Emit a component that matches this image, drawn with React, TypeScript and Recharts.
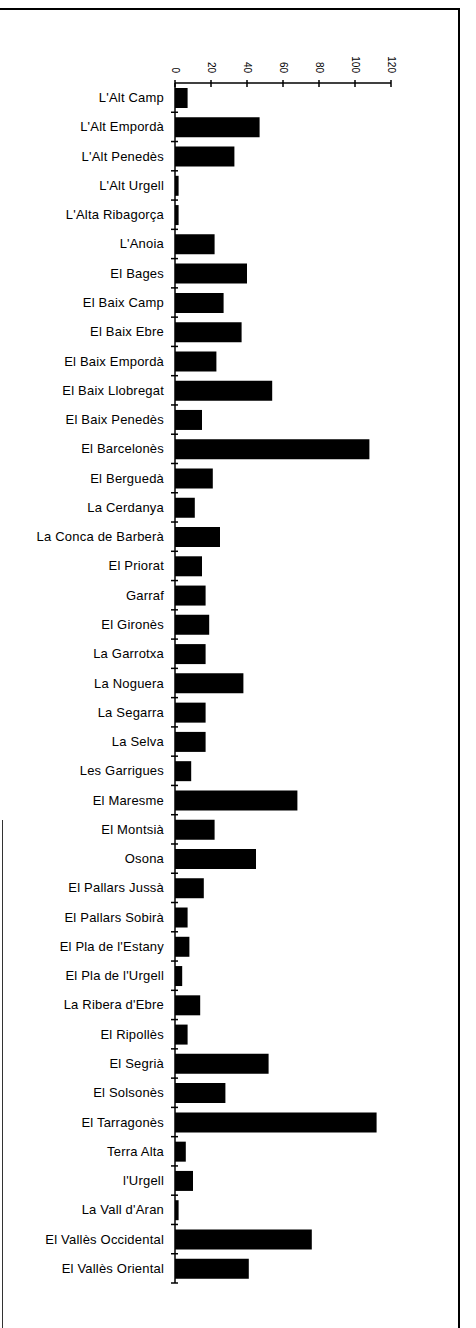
import { BarChart, Bar, XAxis, YAxis } from 'recharts';

const FONT = "'Liberation Sans', Arial, Helvetica, sans-serif";

// comarques, top to bottom
const comarques = [
  "L'Alt Camp", "L'Alt Empordà", "L'Alt Penedès", "L'Alt Urgell", "L'Alta Ribagorça",
  "L'Anoia", 'El Bages', 'El Baix Camp', 'El Baix Ebre', 'El Baix Empordà',
  'El Baix Llobregat', 'El Baix Penedès', 'El Barcelonès', 'El Berguedà', 'La Cerdanya',
  'La Conca de Barberà', 'El Priorat', 'Garraf', 'El Gironès', 'La Garrotxa',
  'La Noguera', 'La Segarra', 'La Selva', 'Les Garrigues', 'El Maresme',
  'El Montsià', 'Osona', 'El Pallars Jussà', 'El Pallars Sobirà', "El Pla de l'Estany",
  "El Pla de l'Urgell", "La Ribera d'Ebre", 'El Ripollès', 'El Segrià', 'El Solsonès',
  'El Tarragonès', 'Terra Alta', "l'Urgell", "La Vall d'Aran", 'El Vallès Occidental',
  'El Vallès Oriental',
];

const valors = [
  7, 47, 33, 2, 2,
  22, 40, 27, 37, 23,
  54, 15, 108, 21, 11,
  25, 15, 17, 19, 17,
  38, 17, 17, 9, 68,
  22, 45, 16, 7, 8,
  4, 14, 7, 52, 28,
  112, 6, 10, 2, 76,
  41,
];

const xTicks = [0, 20, 40, 60, 80, 100, 120];

const data = comarques.map((name, i) => ({ name, value: valors[i] }));

const PLOT_TOP = 83;
const PLOT_BOTTOM = 1283;
const BAND = (PLOT_BOTTOM - PLOT_TOP) / comarques.length;

// category label + boundary mark below it
function CategoryTick({ x, y, payload }: any) {
  return (
    <g>
      <text
        x={x - 11}
        y={y}
        textAnchor="end"
        dominantBaseline="central"
        fontFamily={FONT}
        fontSize={13}
        letterSpacing={0.2}
        fill="#000"
      >
        {payload.value}
      </text>
      <line x1={x - 4} x2={x + 3} y1={y + BAND / 2} y2={y + BAND / 2} stroke="#000" strokeWidth={1.5} />
    </g>
  );
}

// rotated value labels, ticks crossing the axis
function ValueTick({ x, y, payload }: any) {
  return (
    <g>
      <line x1={x} x2={x} y1={y - 3} y2={y + 4} stroke="#000" strokeWidth={1.5} />
      <text
        x={0}
        y={0}
        transform={`translate(${x}, ${y - 10}) rotate(90)`}
        textAnchor="end"
        dominantBaseline="central"
        fontFamily={FONT}
        fontSize={10}
        fill="#000"
      >
        {payload.value}
      </text>
    </g>
  );
}

export default function App() {
  return (
    <div style={{ position: 'absolute', left: 0, top: 0, width: 476, height: 1328, background: '#fff' }}>
      {/* scanned page frame */}
      <div style={{ position: 'absolute', left: 0, top: 8, width: 460, height: 2, background: '#000' }} />
      <div style={{ position: 'absolute', left: 458, top: 8, width: 2, height: 1320, background: '#000' }} />
      <div style={{ position: 'absolute', left: 2, top: 820, width: 1, height: 508, background: '#333' }} />

      <BarChart
        width={476}
        height={1328}
        data={data}
        layout="vertical"
        margin={{ top: PLOT_TOP - 40, right: 85, bottom: 1328 - PLOT_BOTTOM, left: 0 }}
        barSize={20}
      >
        <XAxis
          type="number"
          orientation="top"
          domain={[0, 120]}
          ticks={xTicks}
          interval={0}
          height={40}
          tick={<ValueTick />}
          tickLine={false}
          tickSize={0}
          tickMargin={0}
          axisLine={{ stroke: '#000', strokeWidth: 1.5 }}
        />
        <YAxis
          type="category"
          dataKey="name"
          width={175}
          interval={0}
          tick={<CategoryTick />}
          tickLine={false}
          tickSize={0}
          tickMargin={0}
          axisLine={{ stroke: '#000', strokeWidth: 1.5 }}
        />
        <Bar dataKey="value" fill="#000" isAnimationActive={false} />
      </BarChart>
    </div>
  );
}
